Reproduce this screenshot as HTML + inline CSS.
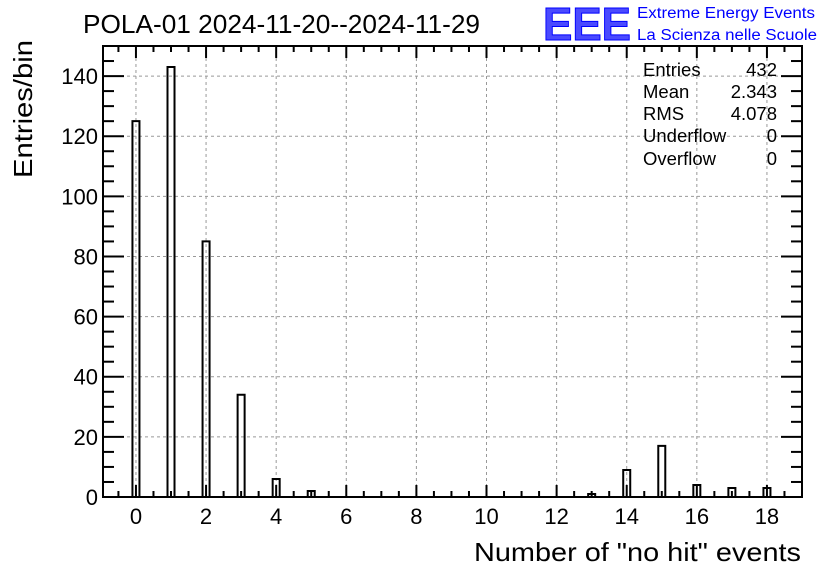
<!DOCTYPE html>
<html><head><meta charset="utf-8"><style>
body{margin:0;background:#fff;}
svg{display:block;font-family:"Liberation Sans",sans-serif;}
</style></head><body>
<svg id="chart" width="836" height="572">
<rect width="836" height="572" fill="#fff"/>
<text x="83" y="33" font-size="26" textLength="397" lengthAdjust="spacingAndGlyphs">POLA-01 2024-11-20--2024-11-29</text>
<text x="543" y="40" font-size="46" font-weight="bold" fill="#4a4aff" stroke="#0000ff" stroke-width="1" textLength="88" lengthAdjust="spacingAndGlyphs">EEE</text>
<text x="637" y="18" font-size="15.5" fill="#0000ff" textLength="178" lengthAdjust="spacingAndGlyphs">Extreme Energy Events</text>
<text x="637" y="40" font-size="15.5" fill="#0000ff" textLength="180" lengthAdjust="spacingAndGlyphs">La Scienza nelle Scuole</text>
<g id="grid"></g>
<g id="bars"></g>
<g id="axes"></g>
<g font-size="18.5">
<text x="643" y="76">Entries</text><text x="777" y="76" text-anchor="end">432</text>
<text x="643" y="98">Mean</text><text x="777" y="98" text-anchor="end">2.343</text>
<text x="643" y="120">RMS</text><text x="777" y="120" text-anchor="end">4.078</text>
<text x="643" y="142">Underflow</text><text x="777" y="142" text-anchor="end">0</text>
<text x="643" y="165">Overflow</text><text x="777" y="165" text-anchor="end">0</text>
</g>
<text x="801" y="561" font-size="26" text-anchor="end" textLength="327" lengthAdjust="spacingAndGlyphs">Number of "no hit" events</text>
<text transform="translate(32,178) rotate(-90)" font-size="26" text-anchor="start" textLength="138" lengthAdjust="spacingAndGlyphs">Entries/bin</text>
</svg>
<script>
const categories=[0,1,2,3,4,5,13,14,15,16,17,18];
const counts=[125,143,85,34,6,2,1,9,17,4,3,3];
const xTicks=[0,2,4,6,8,10,12,14,16,18];
const yTicks=[0,20,40,60,80,100,120,140];
const L=103,R=802,T=46,B=497,XMIN=-0.94,XMAX=19,YMAX=150;
const sx=v=>L+(v-XMIN)/(XMAX-XMIN)*(R-L);
const sy=v=>B-v/YMAX*(B-T);
const NS="http://www.w3.org/2000/svg";
function mk(tag,parent,attrs){const e=document.createElementNS(NS,tag);for(const k in attrs)e.setAttribute(k,attrs[k]);parent.appendChild(e);return e;}
const grid=document.getElementById('grid'),bars=document.getElementById('bars'),axes=document.getElementById('axes');
xTicks.forEach(t=>{const l=mk('line',grid,{x1:sx(t),x2:sx(t),y1:T,y2:B,stroke:'#999','stroke-dasharray':'3,3'});
});
yTicks.forEach(t=>{const l=mk('line',grid,{x1:L,x2:R,y1:sy(t),y2:sy(t),stroke:'#999','stroke-dasharray':'3,3'});
});
categories.forEach((c,i)=>{const x0=sx(c-0.1),x1=sx(c+0.1),y=sy(counts[i]);
const p=mk('path',bars,{d:`M${x0},${B}V${y}H${x1}V${B}`,fill:'none',stroke:'#000','stroke-width':2});
});
const fr=mk('rect',axes,{x:L,y:T,width:R-L,height:B-T,fill:'none',stroke:'#000','stroke-width':2});

for(let v=-0.5;v<=19;v+=0.5){const major=Math.abs(v%2)<1e-9,len=major?12:6;
mk('line',axes,{x1:sx(v),x2:sx(v),y1:B,y2:B-len,stroke:'#000','stroke-width':2});
mk('line',axes,{x1:sx(v),x2:sx(v),y1:T,y2:T+len,stroke:'#000','stroke-width':2});}
for(let v=0;v<=YMAX;v+=5){const major=v%20===0,len=major?21:11;
mk('line',axes,{x1:L,x2:L+len,y1:sy(v),y2:sy(v),stroke:'#000','stroke-width':2});
mk('line',axes,{x1:R,x2:R-len,y1:sy(v),y2:sy(v),stroke:'#000','stroke-width':2});}
xTicks.forEach(t=>{const e=mk('text',axes,{x:sx(t),y:524,'font-size':22,'text-anchor':'middle'});e.textContent=t;
});
yTicks.forEach(t=>{const e=mk('text',axes,{x:98,y:sy(t)+8,'font-size':22,'text-anchor':'end'});e.textContent=t;
});
</script>
</body></html>
